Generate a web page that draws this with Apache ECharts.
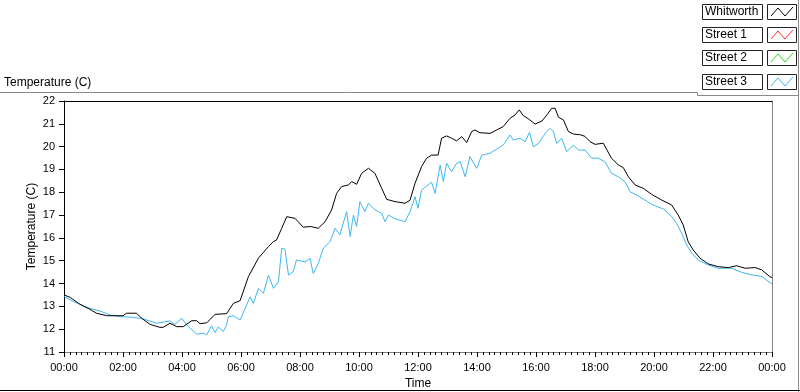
<!DOCTYPE html>
<html>
<head>
<meta charset="utf-8">
<script src="https://cdn.jsdelivr.net/npm/echarts@6/dist/echarts.min.js"></script>
<style>
html,body{margin:0;padding:0;background:#fff;}
#chart{width:800px;height:392px;}
</style>
</head>
<body>
<div id="chart"></div>
<script>
// ---- Data (time in hours, temperature in C) ----
const whitworthTimes = [0.00,0.20,0.54,0.88,1.10,1.45,2.00,2.12,2.46,2.63,2.92,3.25,3.36,3.59,3.82,4.04,4.33,4.50,4.61,4.84,5.12,5.51,5.74,5.97,6.25,6.59,6.93,7.10,7.20,7.38,7.55,7.83,7.93,8.11,8.36,8.62,8.85,9.07,9.24,9.41,9.64,9.75,9.92,10.09,10.32,10.54,10.77,10.94,11.22,11.56,11.73,11.90,12.12,12.29,12.46,12.68,12.80,12.97,13.14,13.31,13.48,13.65,13.82,13.93,14.10,14.44,14.67,14.89,15.12,15.29,15.43,15.57,15.74,15.97,16.20,16.37,16.53,16.65,16.76,16.93,17.10,17.27,17.50,17.66,17.83,18.00,18.28,18.56,18.79,18.96,19.13,19.36,19.64,19.92,20.26,20.60,20.82,20.99,21.16,21.33,21.56,21.84,22.18,22.52,22.80,23.09,23.43,23.65,23.93,24.00];
const whitworthTemps = [13.50,13.40,13.09,12.87,12.70,12.59,12.59,12.70,12.70,12.48,12.21,12.08,12.08,12.26,12.11,12.11,12.37,12.37,12.24,12.28,12.65,12.68,13.13,13.25,14.30,15.11,15.62,15.84,15.90,16.42,16.93,16.86,16.72,16.47,16.50,16.42,16.71,17.22,17.95,18.25,18.32,18.47,18.35,18.83,19.05,18.83,18.17,17.69,17.59,17.52,17.65,18.40,19.12,19.49,19.63,19.63,20.37,20.47,20.37,20.25,20.44,20.18,20.66,20.73,20.61,20.58,20.73,20.88,21.24,21.39,21.61,21.36,21.22,20.99,21.12,21.39,21.68,21.68,21.29,21.17,20.66,20.55,20.52,20.45,20.22,20.10,20.15,19.49,19.20,19.08,18.68,18.32,18.17,17.91,17.66,17.44,17.00,16.57,15.83,15.47,15.11,14.86,14.74,14.70,14.78,14.67,14.70,14.60,14.30,14.26];

const street1Times = [];
const street1Temps = [];
const street2Times = [];
const street2Temps = [];

const street3Times = [0.00,0.32,0.54,0.88,1.22,1.56,1.90,2.35,2.69,3.14,3.59,3.76,3.99,4.16,4.50,4.72,4.84,5.00,5.12,5.23,5.40,5.51,5.57,5.74,5.85,5.97,6.14,6.31,6.42,6.59,6.76,6.93,7.10,7.27,7.38,7.49,7.61,7.77,7.88,8.17,8.34,8.45,8.62,8.79,9.02,9.19,9.35,9.58,9.70,9.81,9.92,10.03,10.20,10.32,10.54,10.77,10.88,11.00,11.22,11.56,11.73,11.90,12.00,12.12,12.34,12.46,12.58,12.75,12.86,12.97,13.14,13.31,13.43,13.60,13.76,13.99,14.16,14.44,14.72,14.89,15.12,15.23,15.46,15.63,15.78,15.91,16.08,16.20,16.36,16.48,16.59,16.70,16.87,17.04,17.27,17.44,17.66,17.89,18.10,18.34,18.56,18.79,19.02,19.19,19.41,19.69,19.97,20.32,20.60,20.77,20.94,21.11,21.28,21.50,21.84,22.18,22.63,22.97,23.31,23.65,24.00];
const street3Temps = [13.43,13.21,13.10,12.91,12.80,12.62,12.55,12.52,12.45,12.26,12.36,12.21,12.48,12.18,11.78,11.83,11.75,12.15,11.85,12.10,11.90,12.17,12.55,12.59,12.50,12.40,12.91,13.42,13.13,13.79,13.57,14.37,13.79,14.08,15.55,15.50,14.37,14.52,15.03,14.95,15.10,14.44,14.88,15.55,15.84,16.42,16.13,17.15,16.06,17.00,16.50,17.59,17.15,17.52,17.23,17.08,16.71,17.00,16.84,16.71,17.15,17.80,17.30,18.10,18.32,18.44,17.95,19.20,18.47,19.27,18.90,19.27,19.34,18.68,19.56,19.05,19.63,19.71,19.93,20.07,20.51,20.29,20.37,20.22,20.63,19.99,20.14,20.37,20.66,20.80,20.66,20.14,20.37,19.78,20.07,19.85,19.85,19.49,19.50,19.34,18.83,18.68,18.46,18.02,17.88,17.66,17.44,17.27,16.93,16.63,16.20,15.69,15.33,15.03,14.81,14.67,14.67,14.49,14.38,14.31,13.98];

const seriesNames = ['Whitworth','Street 1','Street 2','Street 3'];
const seriesColors = ['#000000','#ff3030','#20e020','#3cb8f0'];

function pairs(t, v){ return t.map((x,i)=>[x, v[i]]); }
const seriesData = [
  pairs(whitworthTimes, whitworthTemps),
  pairs(street1Times, street1Temps),
  pairs(street2Times, street2Temps),
  pairs(street3Times, street3Temps)
];

const FONT = 'Liberation Sans';

// legend drawn with graphics
const legendGraphics = [];
seriesNames.forEach((name, i) => {
  const by = Math.round(4 + i * 23.2);
  legendGraphics.push({
    type: 'rect', shape: {x: 702.5, y: by+0.5, width: 60, height: 15},
    style: {fill: '#fff', stroke: '#222', lineWidth: 1}
  });
  legendGraphics.push({
    type: 'text', x: 705, y: by + 8,
    style: {text: name, fill: '#000', font: '12px ' + FONT, verticalAlign: 'middle', align: 'left'}
  });
  legendGraphics.push({
    type: 'rect', shape: {x: 767.5, y: by+0.5, width: 29, height: 15},
    style: {fill: '#fff', stroke: '#222', lineWidth: 1}
  });
  legendGraphics.push({
    type: 'polyline',
    shape: {points: [[771, by+12], [778, by+4], [785, by+12], [793, by+3]]},
    style: {stroke: seriesColors[i], lineWidth: 1, fill: null}
  });
});

const frameGraphics = [
  {type:'line', shape:{x1:0, y1:92.5, x2:697.5, y2:92.5}, style:{stroke:'#8a8a8a', lineWidth:1}},
  {type:'line', shape:{x1:697.5, y1:92.5, x2:697.5, y2:95.5}, style:{stroke:'#8a8a8a', lineWidth:1}},
  {type:'line', shape:{x1:697.5, y1:95.5, x2:798, y2:95.5}, style:{stroke:'#8a8a8a', lineWidth:1}},
  {type:'line', shape:{x1:798.5, y1:0, x2:798.5, y2:392}, style:{stroke:'#8a8a8a', lineWidth:1}},
  {type:'line', shape:{x1:0, y1:390.5, x2:800, y2:390.5}, style:{stroke:'#000', lineWidth:1}},
  {type:'text', x: 4, y: 83, style:{text:'Temperature (C)', fill:'#000', font:'12px ' + FONT, verticalAlign:'middle'}}
];

const chart = echarts.init(document.getElementById('chart'), null, {renderer: 'canvas'});
chart.setOption({
  animation: false,
  backgroundColor: '#ffffff',
  textStyle: {fontFamily: FONT},
  grid: {left: 64, right: 28, top: 101, bottom: 40, containLabel: false, outerBoundsMode: 'none'},
  xAxis: [{
    type: 'value', min: 0, max: 24, interval: 2,
    name: 'Time', nameLocation: 'middle', nameGap: 26, nameMoveOverlap: false,
    nameTextStyle: {color: '#000', fontSize: 12, fontFamily: FONT},
    axisLine: {show: true, onZero: false, lineStyle: {color: '#808080', width: 1}},
    axisTick: {show: true, length: 5, lineStyle: {color: '#000'}},
    minorTick: {show: true, splitNumber: 10, length: 3, lineStyle: {color: '#000'}},
    splitLine: {show: false},
    axisLabel: {
      color: '#000', fontSize: 11, fontFamily: FONT, margin: 10,
      formatter: function(v){ const h = Math.round(v) % 24; return (h < 10 ? '0' : '') + h + ':00'; }
    }
  }, {
    type: 'value', min: 0, max: 24, position: 'top',
    axisLine: {show: true, onZero: false, lineStyle: {color: '#000', width: 1}},
    axisTick: {show: false}, axisLabel: {show: false}, splitLine: {show: false}
  }],
  yAxis: [{
    type: 'value', min: 11, max: 22, interval: 1,
    name: 'Temperature (C)', nameLocation: 'middle', nameGap: 26, nameMoveOverlap: false,
    nameTextStyle: {color: '#000', fontSize: 12, fontFamily: FONT},
    axisLine: {show: true, onZero: false, lineStyle: {color: '#000', width: 1}},
    axisTick: {show: true, length: 5, lineStyle: {color: '#000'}},
    splitLine: {show: false},
    axisLabel: {color: '#000', fontSize: 11, fontFamily: FONT, margin: 9}
  }, {
    type: 'value', min: 11, max: 22, position: 'right',
    axisLine: {show: true, onZero: false, lineStyle: {color: '#808080', width: 1}},
    axisTick: {show: false}, axisLabel: {show: false}, splitLine: {show: false}
  }],
  series: seriesNames.map((name, i) => ({
    name: name, type: 'line', data: seriesData[i], xAxisIndex: 0, yAxisIndex: 0,
    showSymbol: false, symbol: 'none', z: i === 0 ? 3 : 2,
    lineStyle: {color: seriesColors[i], width: 1},
    itemStyle: {color: seriesColors[i]}
  })),
  graphic: frameGraphics.concat(legendGraphics)
});
</script>
</body>
</html>
